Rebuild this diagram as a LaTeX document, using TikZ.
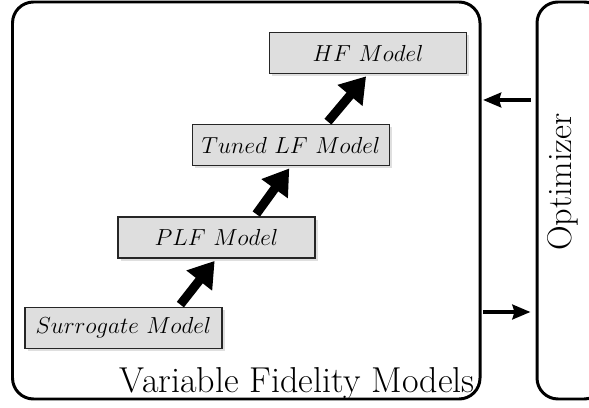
\documentclass[tikz,border=0pt]{standalone}
\usepackage{amsmath}
\usepackage{graphicx}
\usepackage{tikz}
\usetikzlibrary{
  arrows.meta,
  positioning,
  shadows
}
\newcommand{\modeltext}[1]{\scalebox{1.1}{$#1$}}

\begin{document}
\begin{tikzpicture}[
  model/.style={draw=black!85,fill=black!13,line width=0.6pt,minimum width=3.94cm,minimum height=0.82cm,
    drop shadow={shadow xshift=1.5pt,shadow yshift=-1.5pt,opacity=0.25},font=\fontsize{12}{15}\selectfont},
  frame/.style={draw,line width=1.7pt,rounded corners=0.42cm},
  bigtext/.style={font=\fontsize{20.5}{24}\selectfont},
  optext/.style={font=\fontsize{19.5}{23}\selectfont,rotate=90},
  bigarrow/.style={-{Triangle[width=0.62cm,length=0.5cm]},line width=0.18cm,shorten <=0.06cm,shorten >=0.06cm},
  sidearrow/.style={-{Stealth[width=0.29cm,length=0.36cm,inset=0.04cm]},line width=2.5pt}
]
  \useasboundingbox (0, 0) rectangle (11.78, 8.14);
  \clip (0, 0) rectangle (11.78, 8.14);

  \node[frame,minimum width=9.35cm,minimum height=7.94cm] at (4.925, 4.13) (Models) {};
  \node[frame,minimum width=1.36cm,minimum height=7.94cm] at (11.42, 4.13) (Optimizer) {};
  \node[optext] at (11.25, 4.5) (OptText) {Optimizer};
  \node[bigtext,anchor=base east] at (9.62, 0.3) (Caption) {Variable Fidelity Models};

  \node[model] at (2.47, 1.58) (Surrogate) {\modeltext{Surrogate\ Model}};
  \node[model] at (4.33, 3.39) (PLF) {\modeltext{PLF\ Model}};
  \node[model] at (5.82, 5.24) (Tuned) {\modeltext{Tuned\ LF\ Model}};
  \node[model] at (7.36, 7.08) (HF) {\modeltext{HF\ Model}};

  \draw[bigarrow] ([xshift=1.1cm] Surrogate.north) -- (PLF.south);
  \draw[bigarrow] ([xshift=0.76cm] PLF.north) -- (Tuned.south);
  \draw[bigarrow] ([xshift=0.7cm] Tuned.north) -- (HF.south);

  \draw[sidearrow,shorten <=0.1cm,shorten >=0.03cm]
  ([yshift=2.01cm] Optimizer.west) -- ([yshift=2.01cm] Models.east);
  \draw[sidearrow,shorten <=0.03cm,shorten >=0.1cm]
  ([yshift=-2.23cm] Models.east) -- ([yshift=-2.23cm] Optimizer.west);
\end{tikzpicture}
\end{document}
